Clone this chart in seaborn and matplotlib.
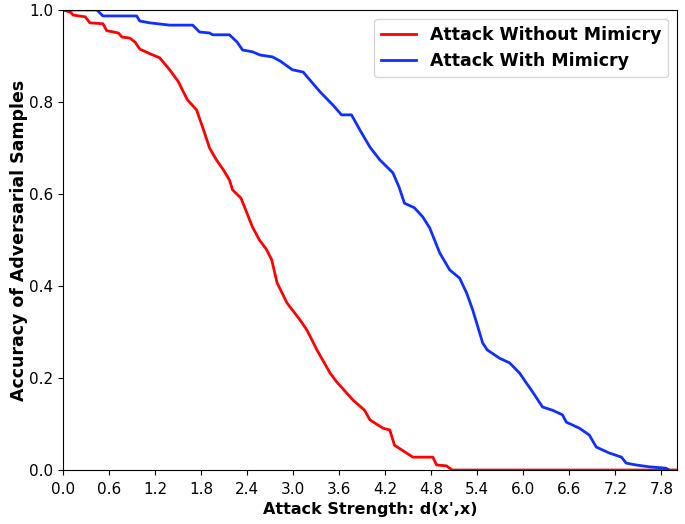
import seaborn as sns
import matplotlib.pyplot as plt
import numpy as np
import pandas as pd

# attack without mimicry
red_x = [0.00, 0.10, 0.13, 0.29, 0.35, 0.52, 0.57, 0.72, 0.77, 0.87, 0.94, 1.00, 1.13, 1.26,
         1.39, 1.50, 1.62, 1.74, 1.82, 1.91, 2.00, 2.10, 2.17, 2.21, 2.32, 2.47, 2.56, 2.65,
         2.72, 2.79, 2.92, 3.09, 3.18, 3.31, 3.48, 3.57, 3.78, 3.93, 4.00, 4.17, 4.26, 4.32,
         4.56, 4.82, 4.87, 5.00, 5.07, 8.00]
red_y = [1.000, 0.995, 0.989, 0.985, 0.972, 0.970, 0.955, 0.950, 0.941, 0.939, 0.930, 0.915,
         0.905, 0.896, 0.870, 0.845, 0.805, 0.783, 0.745, 0.700, 0.674, 0.650, 0.630, 0.609,
         0.591, 0.528, 0.500, 0.480, 0.457, 0.407, 0.363, 0.326, 0.304, 0.261, 0.211, 0.191,
         0.152, 0.130, 0.109, 0.091, 0.087, 0.054, 0.028, 0.028, 0.011, 0.009, 0.000, 0.000]

# attack with mimicry
blue_x = [0.00, 0.44, 0.52, 0.96, 1.00, 1.13, 1.39, 1.69, 1.78, 1.91, 1.95, 2.17, 2.27, 2.34,
          2.47, 2.57, 2.73, 2.83, 2.99, 3.13, 3.35, 3.52, 3.63, 3.76, 3.87, 4.00, 4.13, 4.30,
          4.38, 4.45, 4.58, 4.69, 4.78, 4.91, 5.04, 5.17, 5.26, 5.34, 5.40, 5.47, 5.53, 5.69,
          5.82, 5.95, 6.04, 6.12, 6.25, 6.38, 6.51, 6.56, 6.73, 6.86, 6.95, 7.12, 7.28, 7.34,
          7.47, 7.64, 7.86, 7.90]
blue_y = [1.000, 1.000, 0.987, 0.987, 0.976, 0.972, 0.967, 0.967, 0.952, 0.950, 0.946, 0.946,
          0.930, 0.913, 0.909, 0.902, 0.898, 0.889, 0.870, 0.865, 0.822, 0.793, 0.772, 0.772,
          0.739, 0.702, 0.674, 0.646, 0.615, 0.580, 0.570, 0.550, 0.526, 0.472, 0.435, 0.417,
          0.385, 0.348, 0.315, 0.276, 0.261, 0.243, 0.233, 0.211, 0.189, 0.170, 0.137, 0.130,
          0.120, 0.104, 0.091, 0.076, 0.050, 0.037, 0.028, 0.015, 0.011, 0.007, 0.004, 0.000]

fig, ax = plt.subplots(figsize=(6.85, 5.24), dpi=100)
sns.lineplot(x=red_x, y=red_y, sort=False, color='#ff0000', lw=2, label='Attack Without Mimicry', ax=ax)
sns.lineplot(x=blue_x, y=blue_y, sort=False, color='#1030ff', lw=2, label='Attack With Mimicry', ax=ax)

ax.set_xlim(0, 8.0)
ax.set_ylim(0, 1.0)
ax.set_xticks(np.arange(0, 7.81, 0.6))
ax.set_xticklabels(['%.1f' % v for v in np.arange(0, 7.81, 0.6)])
ax.set_yticks(np.arange(0, 1.01, 0.2))
ax.tick_params(labelsize=11)
ax.tick_params(axis='x', pad=5)
ax.set_xlabel("Attack Strength: d(x',x)", fontsize=11.5, fontweight='bold', labelpad=4)
ax.set_ylabel('Accuracy of Adversarial Samples', fontsize=12.5, fontweight='bold', labelpad=1)
ax.legend(loc='upper right', prop={'weight': 'bold', 'size': 12.5})

plt.subplots_adjust(left=0.092, right=0.988, top=0.981, bottom=0.103)
plt.savefig('out.png', dpi=100)
